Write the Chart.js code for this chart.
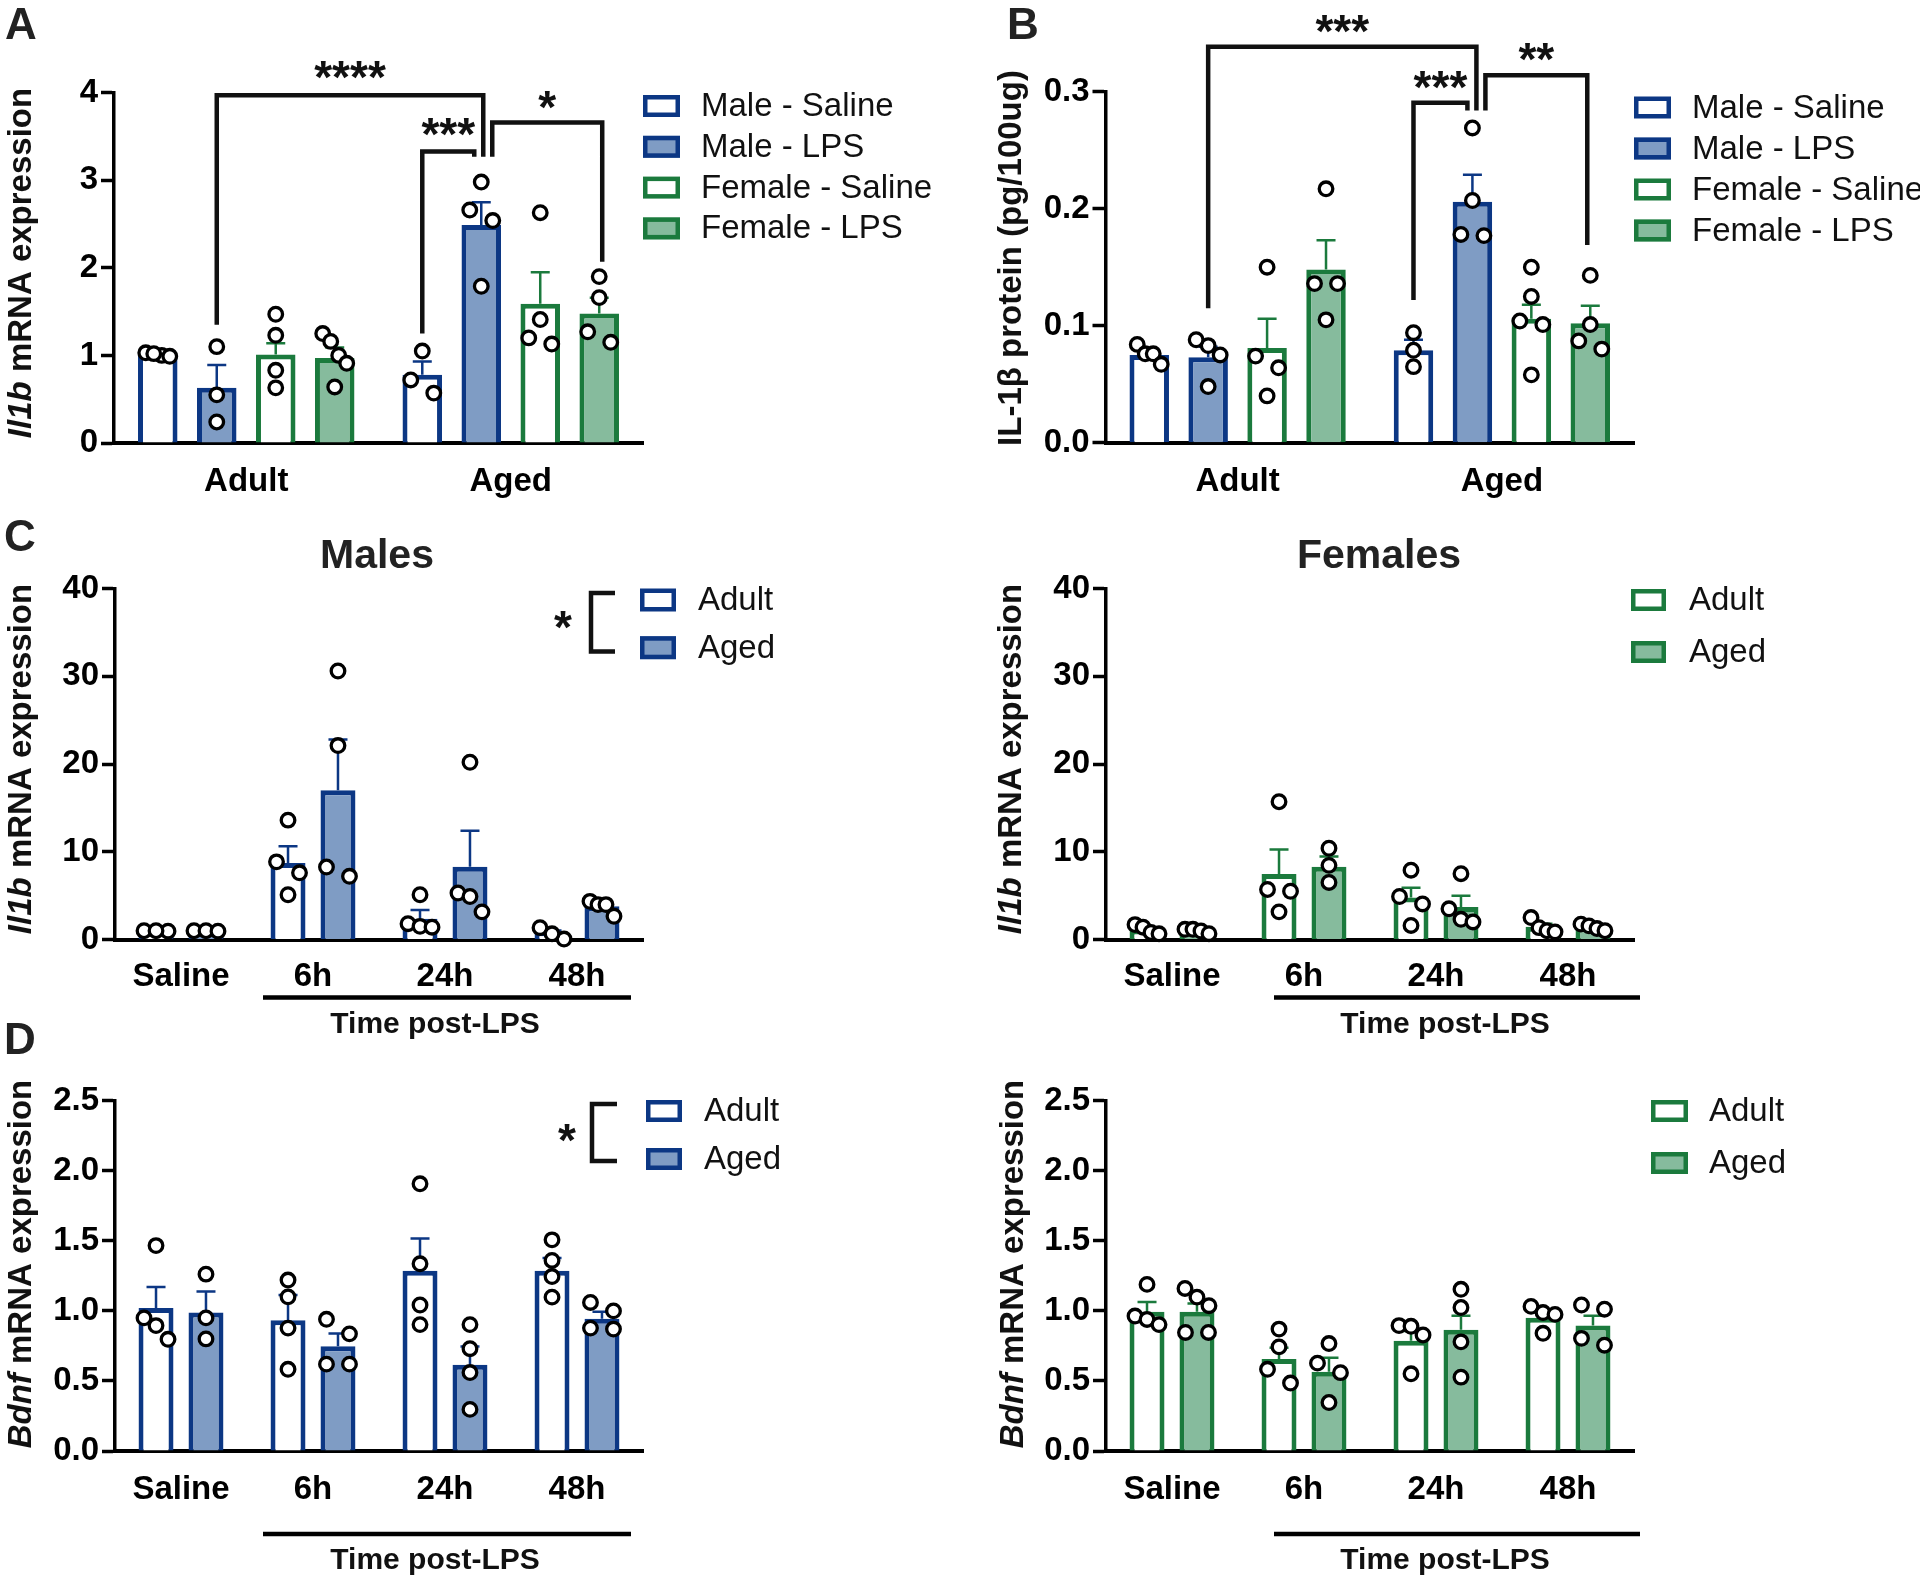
<!DOCTYPE html>
<html>
<head>
<meta charset="utf-8">
<script src="https://cdn.jsdelivr.net/npm/chart.js@4.4.0/dist/chart.umd.min.js"></script>
<style>
html,body{margin:0;padding:0;background:#fff;}
#fig{position:relative;width:1920px;height:1578px;overflow:hidden;background:#fff;}
#fig canvas{position:absolute;}
</style>
</head>
<body>
<div id="fig"></div>
<script>
// ---------------- DATA ----------------
// Panel A: Il1b mRNA expression
const A_categories = ['Adult', 'Aged'];
const A_series = ['Male - Saline', 'Male - LPS', 'Female - Saline', 'Female - LPS'];
const A_mean = [[1.00, 0.78], [0.63, 2.49], [1.01, 1.59], [0.97, 1.48]];
const A_sem  = [[0.02, 0.15], [0.26, 0.26], [0.13, 0.36], [0.12, 0.18]];
const A_points = [
  [[1.00, 1.03, 0.99, 1.02], [1.05, 0.72, 0.57]],
  [[1.10, 0.55, 0.24], [2.98, 2.66, 2.54, 1.79]],
  [[1.47, 1.23, 0.83, 0.63], [2.63, 1.41, 1.20, 1.13]],
  [[1.25, 1.16, 1.00, 0.91, 0.64], [1.90, 1.66, 1.27, 1.15]]
];
const A_yTickLabels = ['0', '1', '2', '3', '4'];

// Panel B: IL-1beta protein
const B_categories = ['Adult', 'Aged'];
const B_series = ['Male - Saline', 'Male - LPS', 'Female - Saline', 'Female - LPS'];
const B_mean = [[0.075, 0.079], [0.073, 0.206], [0.081, 0.106], [0.148, 0.102]];
const B_sem  = [[0.004, 0.009], [0.009, 0.023], [0.025, 0.012], [0.025, 0.015]];
const B_points = [
  [[0.084, 0.076, 0.076, 0.067], [0.094, 0.079, 0.065]],
  [[0.083, 0.088, 0.075, 0.048], [0.269, 0.207, 0.178, 0.177]],
  [[0.150, 0.074, 0.064, 0.040], [0.150, 0.125, 0.104, 0.101, 0.058]],
  [[0.217, 0.136, 0.136, 0.105], [0.143, 0.101, 0.087, 0.080]]
];
const B_yTickLabels = ['0.0', '0.1', '0.2', '0.3'];

// Panels C/D share categories and groups
const time_categories = ['Saline', '6h', '24h', '48h'];
const age_series = ['Adult', 'Aged'];

// Panel C Males: Il1b
const CM_mean = [[1.00, 8.73, 2.36, 0.68], [1.00, 17.0, 8.30, 3.80]];
const CM_sem  = [[0.05, 1.90, 1.00, 0.35], [0.05, 5.80, 4.10, 0.40]];
const CM_points = [
  [[1.00, 0.95, 1.00], [13.6, 8.85, 7.60, 5.10], [5.10, 1.80, 1.50, 1.40], [0.05, 1.35, 0.65]],
  [[1.00, 1.00, 0.95], [30.6, 22.1, 8.26, 7.20], [20.2, 5.30, 4.90, 3.15], [4.35, 3.98, 3.98, 2.65]]
];
// Panel C Females: Il1b
const CF_mean = [[1.10, 7.47, 4.80, 1.45], [1.00, 8.30, 3.70, 1.40]];
const CF_sem  = [[0.25, 2.80, 1.10, 0.35], [0.10, 1.15, 1.30, 0.15]];
const CF_points = [
  [[1.70, 1.40, 0.80, 0.65], [15.7, 5.70, 5.50, 3.15], [7.90, 4.90, 4.05, 1.60], [2.50, 1.35, 1.00, 0.87]],
  [[1.16, 1.16, 0.97, 0.66], [10.4, 8.45, 6.50], [7.50, 3.50, 2.30, 2.00], [1.75, 1.55, 1.25, 1.00]]
];
const C_yTickLabels = ['0', '10', '20', '30', '40'];

// Panel D Males: Bdnf
const DM_mean = [[1.02, 0.934, 1.287, 1.287], [0.988, 0.748, 0.615, 0.944]];
const DM_sem  = [[0.15, 0.18, 0.23, 0.09], [0.15, 0.09, 0.13, 0.05]];
const DM_points = [
  [[1.466, 0.95, 0.895, 0.797], [1.22, 1.10, 0.877, 0.583], [1.907, 1.336, 1.042, 0.902], [1.507, 1.36, 1.245, 1.098]],
  [[1.262, 0.95, 0.80], [0.94, 0.836, 0.62, 0.62], [0.902, 0.73, 0.56, 0.297], [1.06, 1.00, 0.877, 0.87]]
];
// Panel D Females: Bdnf
const DF_mean = [[0.993, 0.657, 0.787, 0.951], [0.993, 0.566, 0.865, 0.895]];
const DF_sem  = [[0.07, 0.08, 0.07, 0.04], [0.06, 0.10, 0.10, 0.07]];
const DF_points = [
  [[1.189, 0.963, 0.939, 0.902], [0.87, 0.743, 0.583, 0.485], [0.895, 0.89, 0.828, 0.551], [1.032, 0.988, 0.975, 0.84]],
  [[1.16, 1.098, 1.037, 0.846, 0.846], [0.767, 0.627, 0.559, 0.346], [1.154, 1.024, 0.779, 0.527], [1.042, 1.012, 0.804, 0.755]]
];
const D_yTickLabels = ['0.0', '0.5', '1.0', '1.5', '2.0', '2.5'];

// ---------------- STYLE ----------------
const FONT = '"Liberation Sans", Arial, Helvetica, sans-serif';
const BLUE = '#0c3784', BLUE_FILL = '#7f9cc4';
const GREEN = '#1b7a3d', GREEN_FILL = '#86bb9d';
const WHITE = '#ffffff', INK = '#111111';
const PT_R = 6.8, PT_LW = 3.3;

function swarmOffsets(vals, yp) {
  const dia = 15.5, pairGap = 23, spread = 24;
  const n = vals.length;
  const offs = new Array(n).fill(0);
  if (!n) return offs;
  const idx = vals.map((v, k) => k).sort((a, b) => vals[b] - vals[a]);
  let cluster = [idx[0]];
  const flush = () => {
    const m = cluster.length;
    const s = m === 1 ? 0 : (m === 2 ? pairGap : spread / (m - 1));
    cluster.forEach((k, q) => { offs[k] = (q - (m - 1) / 2) * s; });
  };
  for (let q = 1; q < idx.length; q++) {
    const k = idx[q], prev = idx[q - 1];
    if (Math.abs(yp(vals[k]) - yp(vals[prev])) < dia) cluster.push(k);
    else { flush(); cluster = [k]; }
  }
  flush();
  return offs;
}

function centeredGlyph(ctx, text, x, y) {
  ctx.textAlign = 'center';
  ctx.textBaseline = 'alphabetic';
  const m = ctx.measureText(text);
  ctx.fillText(text, x, y + (m.actualBoundingBoxAscent - m.actualBoundingBoxDescent) / 2);
}

function makePanel(p) {
  const cv = document.createElement('canvas');
  cv.width = p.canvas.w; cv.height = p.canvas.h;
  cv.style.left = p.canvas.x + 'px'; cv.style.top = p.canvas.y + 'px';
  cv.style.width = p.canvas.w + 'px'; cv.style.height = p.canvas.h + 'px';
  document.getElementById('fig').appendChild(cv);
  const ox = p.canvas.x, oy = p.canvas.y;
  const yW = p.area.left - ox;
  const padTop = p.area.top - oy;
  const padRight = ox + p.canvas.w - p.area.right;
  const xH = p.xAxisHeight;
  const padBottom = oy + p.canvas.h - p.area.bottom - xH;
  const tickVals = p.yTickLabels.map(parseFloat);

  const datasets = p.series.map((name, i) => ({
    label: name,
    data: p.means[i],
    sem: p.sems[i],
    pts: p.points[i],
    backgroundColor: p.fills[i],
    borderColor: p.borders[i],
    borderWidth: 5,
    borderSkipped: 'start',
    barPercentage: p.barPct,
    categoryPercentage: p.catPct
  }));

  const decor = {
    id: 'decor',
    afterDatasetsDraw(chart) {
      const ctx = chart.ctx, ys = chart.scales.y;
      ctx.save();
      chart.data.datasets.forEach((ds, i) => {
        const meta = chart.getDatasetMeta(i);
        meta.data.forEach((bar, j) => {
          const top = ys.getPixelForValue(ds.data[j] + ds.sem[j]);
          ctx.strokeStyle = ds.borderColor;
          ctx.lineWidth = 2.5;
          ctx.beginPath();
          ctx.moveTo(bar.x, bar.y);
          ctx.lineTo(bar.x, top);
          ctx.moveTo(bar.x - 9.5, top);
          ctx.lineTo(bar.x + 9.5, top);
          ctx.stroke();
        });
      });
      ctx.restore();
    },
    afterDraw(chart) {
      const ctx = chart.ctx, ys = chart.scales.y;
      const yp = v => ys.getPixelForValue(v);
      ctx.save();
      ctx.fillStyle = INK; ctx.strokeStyle = INK;
      // significance brackets
      (p.brackets || []).forEach(b => {
        const xa = chart.getDatasetMeta(b.a[0]).data[b.a[1]].x + b.a[2];
        const xb = chart.getDatasetMeta(b.b[0]).data[b.b[1]].x + b.b[2];
        ctx.lineWidth = 4.5; ctx.lineJoin = 'miter'; ctx.lineCap = 'butt';
        ctx.beginPath();
        ctx.moveTo(xa, yp(b.aEnd)); ctx.lineTo(xa, yp(b.top));
        ctx.lineTo(xb, yp(b.top)); ctx.lineTo(xb, yp(b.bEnd));
        ctx.stroke();
        ctx.font = 'bold 46px ' + FONT;
        centeredGlyph(ctx, b.text, (xa + xb) / 2, yp(b.ty));
      });
      // individual points
      chart.data.datasets.forEach((ds, i) => {
        const meta = chart.getDatasetMeta(i);
        ds.pts.forEach((vals, j) => {
          const bx = meta.data[j].x;
          const offs = swarmOffsets(vals, yp);
          vals.forEach((v, k) => {
            ctx.beginPath();
            ctx.arc(bx + offs[k], yp(v), PT_R, 0, Math.PI * 2);
            ctx.fillStyle = '#ffffff'; ctx.fill();
            ctx.lineWidth = PT_LW; ctx.strokeStyle = '#000'; ctx.stroke();
          });
        });
      });
      // legend
      const L = p.legend;
      chart.data.datasets.forEach((ds, i) => {
        const cy = L.y + i * L.dy - oy;
        const bx = L.x - ox;
        ctx.fillStyle = ds.backgroundColor;
        ctx.fillRect(bx, cy - L.h / 2, L.w, L.h);
        ctx.lineWidth = 4.5; ctx.strokeStyle = ds.borderColor;
        ctx.strokeRect(bx + 2.25, cy - L.h / 2 + 2.25, L.w - 4.5, L.h - 4.5);
        ctx.fillStyle = INK;
        ctx.font = '33px ' + FONT;
        ctx.textAlign = 'left'; ctx.textBaseline = 'middle';
        ctx.fillText(ds.label, L.tx - ox, cy + 1);
      });
      // significance key beside legend
      if (p.sigKey) {
        const s = p.sigKey;
        ctx.strokeStyle = INK; ctx.lineWidth = 4.5;
        ctx.beginPath();
        ctx.moveTo(s.x2 - ox, s.y1 - oy); ctx.lineTo(s.x - ox, s.y1 - oy);
        ctx.lineTo(s.x - ox, s.y2 - oy); ctx.lineTo(s.x2 - ox, s.y2 - oy);
        ctx.stroke();
        ctx.fillStyle = INK; ctx.font = 'bold 46px ' + FONT;
        centeredGlyph(ctx, '*', s.sx - ox, s.sy - oy);
      }
      // time post-LPS underline
      if (p.timeLine) {
        const t = p.timeLine;
        ctx.strokeStyle = '#000'; ctx.lineWidth = 4.5;
        ctx.beginPath();
        ctx.moveTo(t.x1 - ox, t.y - oy); ctx.lineTo(t.x2 - ox, t.y - oy);
        ctx.stroke();
        ctx.fillStyle = INK; ctx.font = 'bold 30px ' + FONT;
        ctx.textAlign = 'center'; ctx.textBaseline = 'middle';
        ctx.fillText('Time post-LPS', t.tx - ox, t.ty - oy);
      }
      // y-axis title (mixed italic)
      if (p.yTitle) {
        const yt = p.yTitle;
        ctx.save();
        ctx.translate(yt.x - ox, yt.y - oy);
        ctx.rotate(-Math.PI / 2);
        const fonts = yt.parts.map(pt => (pt[1] ? 'italic ' : '') + 'bold 33px ' + FONT);
        let total = 0;
        yt.parts.forEach((pt, k) => { ctx.font = fonts[k]; total += ctx.measureText(pt[0]).width; });
        let cx = -total / 2;
        ctx.fillStyle = INK; ctx.textAlign = 'left'; ctx.textBaseline = 'middle';
        yt.parts.forEach((pt, k) => {
          ctx.font = fonts[k];
          ctx.fillText(pt[0], cx, 0);
          cx += ctx.measureText(pt[0]).width;
        });
        ctx.restore();
      }
      // panel letter and title
      ctx.fillStyle = '#222'; ctx.textAlign = 'center'; ctx.textBaseline = 'middle';
      if (p.letter) {
        ctx.font = 'bold 44px ' + FONT;
        centeredGlyph(ctx, p.letter.text, p.letter.x - ox, p.letter.y - oy);
      }
      if (p.title) {
        ctx.font = 'bold 41px ' + FONT;
        centeredGlyph(ctx, p.title.text, p.title.x - ox, p.title.y - oy);
      }
      ctx.restore();
    }
  };

  new Chart(cv, {
    type: 'bar',
    data: { labels: p.categories, datasets },
    options: {
      responsive: false,
      animation: false,
      devicePixelRatio: 1,
      layout: { padding: { left: 0, top: padTop, right: padRight, bottom: padBottom } },
      plugins: { legend: { display: false }, tooltip: { enabled: false } },
      scales: {
        x: {
          type: 'category', offset: true, z: 1,
          grid: { display: false, drawTicks: false },
          border: { display: true, color: '#000', width: 4 },
          ticks: { color: '#000', font: { family: FONT, size: 33, weight: 'bold' }, padding: p.xTickPad, maxRotation: 0, autoSkip: false },
          afterFit: s => { s.height = xH; }
        },
        y: {
          min: tickVals[0], max: tickVals[tickVals.length - 1],
          grid: { display: true, drawOnChartArea: false, drawTicks: true, tickLength: 13, tickWidth: 3.5, tickColor: '#000' },
          border: { display: true, color: '#000', width: 3.5 },
          ticks: { color: '#000', font: { family: FONT, size: 33, weight: 'bold' }, padding: 3,
                   callback: (v) => { const k = tickVals.findIndex(t => Math.abs(t - v) < 1e-9); return k >= 0 ? p.yTickLabels[k] : ''; } },
          afterBuildTicks: s => { s.ticks = tickVals.map(v => ({ value: v })); },
          afterFit: s => { s.width = yW; }
        }
      }
    },
    plugins: [decor]
  });
}

// ---------------- PANELS ----------------
makePanel({
  canvas: { x: 0, y: 0, w: 960, h: 520 },
  area: { left: 114, top: 92.7, right: 643, bottom: 443 },
  xAxisHeight: 70, xTickPad: 19,
  categories: A_categories, series: A_series, means: A_mean, sems: A_sem, points: A_points, yTickLabels: A_yTickLabels,
  borders: [BLUE, BLUE, GREEN, GREEN], fills: [WHITE, BLUE_FILL, WHITE, GREEN_FILL],
  catPct: 0.892, barPct: 0.67,
  letter: { text: 'A', x: 21, y: 23 },
  yTitle: { parts: [['Il1b', true], [' mRNA expression', false]], x: 22, y: 263 },
  legend: { x: 643, y: 106, dy: 40.8, w: 37, h: 22, tx: 701 },
  brackets: [
    { a: [1, 0, 0], b: [1, 1, 2], top: 3.97, aEnd: 1.35, bEnd: 3.27, text: '****', ty: 4.26 },
    { a: [0, 1, 0], b: [1, 1, -7], top: 3.33, aEnd: 1.25, bEnd: 3.27, text: '***', ty: 3.61 },
    { a: [1, 1, 11], b: [3, 1, 3], top: 3.66, aEnd: 3.27, bEnd: 2.07, text: '*', ty: 3.92 }
  ]
});

makePanel({
  canvas: { x: 960, y: 0, w: 960, h: 520 },
  area: { left: 1105.5, top: 91.7, right: 1634, bottom: 442.7 },
  xAxisHeight: 70, xTickPad: 19,
  categories: B_categories, series: B_series, means: B_mean, sems: B_sem, points: B_points, yTickLabels: B_yTickLabels,
  borders: [BLUE, BLUE, GREEN, GREEN], fills: [WHITE, BLUE_FILL, WHITE, GREEN_FILL],
  catPct: 0.892, barPct: 0.67,
  letter: { text: 'B', x: 1023, y: 23 },
  yTitle: { parts: [['IL-1β protein (pg/100ug)', false]], x: 1012, y: 258 },
  legend: { x: 1634, y: 107.5, dy: 41, w: 37, h: 22, tx: 1692 },
  brackets: [
    { a: [1, 0, 0], b: [1, 1, 4], top: 0.3385, aEnd: 0.115, bEnd: 0.284, text: '***', ty: 0.358 },
    { a: [0, 1, 0], b: [1, 1, -5], top: 0.2906, aEnd: 0.122, bEnd: 0.284, text: '***', ty: 0.310 },
    { a: [1, 1, 13], b: [3, 1, -3], top: 0.314, aEnd: 0.284, bEnd: 0.169, text: '**', ty: 0.334 }
  ]
});

makePanel({
  canvas: { x: 0, y: 500, w: 960, h: 560 },
  area: { left: 115, top: 588.5, right: 643, bottom: 939.5 },
  xAxisHeight: 70, xTickPad: 18,
  categories: time_categories, series: age_series, means: CM_mean, sems: CM_sem, points: CM_points, yTickLabels: C_yTickLabels,
  borders: [BLUE, BLUE], fills: [WHITE, BLUE_FILL],
  catPct: 0.757, barPct: 0.7,
  letter: { text: 'C', x: 20, y: 535 },
  title: { text: 'Males', x: 377, y: 553 },
  yTitle: { parts: [['Il1b', true], [' mRNA expression', false]], x: 22, y: 759 },
  legend: { x: 640, y: 600, dy: 47.7, w: 36, h: 23, tx: 698 },
  sigKey: { x: 591, y1: 593, y2: 651.5, x2: 615, sx: 563, sy: 620 },
  timeLine: { x1: 263, x2: 631, y: 997.5, tx: 435, ty: 1025 }
});

makePanel({
  canvas: { x: 960, y: 500, w: 960, h: 560 },
  area: { left: 1106, top: 588.5, right: 1634, bottom: 939.5 },
  xAxisHeight: 70, xTickPad: 18,
  categories: time_categories, series: age_series, means: CF_mean, sems: CF_sem, points: CF_points, yTickLabels: C_yTickLabels,
  borders: [GREEN, GREEN], fills: [WHITE, GREEN_FILL],
  catPct: 0.757, barPct: 0.7,
  title: { text: 'Females', x: 1379, y: 553 },
  yTitle: { parts: [['Il1b', true], [' mRNA expression', false]], x: 1012, y: 759 },
  legend: { x: 1631, y: 600, dy: 52, w: 35, h: 22, tx: 1689 },
  timeLine: { x1: 1274, x2: 1640, y: 997.5, tx: 1445, ty: 1025 }
});

makePanel({
  canvas: { x: 0, y: 1010, w: 960, h: 568 },
  area: { left: 115, top: 1100.7, right: 643, bottom: 1451 },
  xAxisHeight: 70, xTickPad: 19,
  categories: time_categories, series: age_series, means: DM_mean, sems: DM_sem, points: DM_points, yTickLabels: D_yTickLabels,
  borders: [BLUE, BLUE], fills: [WHITE, BLUE_FILL],
  catPct: 0.757, barPct: 0.7,
  letter: { text: 'D', x: 20, y: 1038 },
  yTitle: { parts: [['Bdnf', true], [' mRNA expression', false]], x: 22, y: 1264 },
  legend: { x: 646, y: 1111, dy: 48, w: 36, h: 22, tx: 704 },
  sigKey: { x: 592, y1: 1104, y2: 1161, x2: 617, sx: 567, sy: 1133 },
  timeLine: { x1: 263, x2: 631, y: 1534, tx: 435, ty: 1561 }
});

makePanel({
  canvas: { x: 960, y: 1010, w: 960, h: 568 },
  area: { left: 1106, top: 1100.7, right: 1634, bottom: 1451 },
  xAxisHeight: 70, xTickPad: 19,
  categories: time_categories, series: age_series, means: DF_mean, sems: DF_sem, points: DF_points, yTickLabels: D_yTickLabels,
  borders: [GREEN, GREEN], fills: [WHITE, GREEN_FILL],
  catPct: 0.757, barPct: 0.7,
  yTitle: { parts: [['Bdnf', true], [' mRNA expression', false]], x: 1014, y: 1264 },
  legend: { x: 1651, y: 1111, dy: 52, w: 37, h: 22, tx: 1709 },
  timeLine: { x1: 1274, x2: 1640, y: 1534, tx: 1445, ty: 1561 }
});
</script>
</body>
</html>
